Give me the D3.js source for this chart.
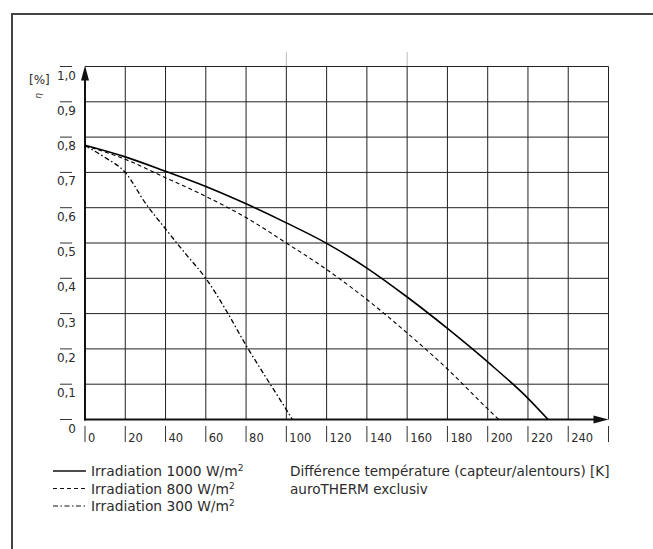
<!DOCTYPE html>
<html>
<head>
<meta charset="utf-8">
<script src="https://cdn.jsdelivr.net/npm/d3@7"></script>
<style>
  body { margin: 0; background: #fff; }
  text { font-family: "DejaVu Sans", sans-serif; fill: #2b2b2b; }
</style>
</head>
<body>
<div id="d3-container"></div>
<script>
// values
const xTickValues = [0, 20, 40, 60, 80, 100, 120, 140, 160, 180, 200, 220, 240, 260];
const xTickLabels = ['0', '20', '40', '60', '80', '100', '120', '140', '160', '180', '200', '220', '240', ''];
const yTickValues = [0, 0.1, 0.2, 0.3, 0.4, 0.5, 0.6, 0.7, 0.8, 0.9, 1.0];
const yTickLabels = ['0', '0,1', '0,2', '0,3', '0,4', '0,5', '0,6', '0,7', '0,8', '0,9', '1,0'];

const dT1000 = [0, 20, 40, 60, 80, 100, 120, 140, 160, 180, 200, 220, 230];
const eta1000 = [0.777, 0.744, 0.703, 0.660, 0.611, 0.557, 0.499, 0.429, 0.347, 0.258, 0.163, 0.06, 0];

const dT800 = [0, 20, 40, 60, 80, 100, 120, 140, 160, 180, 200, 205.5];
const eta800 = [0.776, 0.737, 0.685, 0.632, 0.572, 0.5, 0.425, 0.34, 0.245, 0.143, 0.03, 0];

const dT300 = [0, 10, 20, 30, 40, 50, 60, 70, 80, 90, 100, 103];
const eta300 = [0.776, 0.742, 0.70, 0.613, 0.54, 0.469, 0.4, 0.31, 0.21, 0.118, 0.028, 0];

const legendLabels = ['Irradiation 1000 W/m', 'Irradiation 800 W/m', 'Irradiation 300 W/m'];
const legendDash = [null, '4,3', '5,2.5,1.5,2.5'];
const xTitle = 'Différence température (capteur/alentours) [K]';
const subTitle = 'auroTHERM exclusiv';

const width = 653;
const height = 549;

const svg = d3.select('#d3-container')
    .append('svg')
    .attr('width', width)
    .attr('height', height)
    .attr('viewBox', [0, 0, width, height]);

const x = d3.scaleLinear()
    .domain([0, 260])
    .range([85, 608.5]);

const y = d3.scaleLinear()
    .domain([0, 1])
    .range([419.5, 66.5]);

// outer frame (top and left edges only)
svg.append('path')
    .attr('d', `M12,${height} V14 H${width}`)
    .attr('fill', 'none')
    .attr('stroke', '#444')
    .attr('stroke-width', 2);

// faint marks above the grid
svg.append('g')
    .attr('stroke', '#bbb')
    .selectAll('line')
    .data([100, 160])
    .join('line')
    .attr('x1', d => x(d)).attr('x2', d => x(d))
    .attr('y1', 52).attr('y2', y(1));

// grid
const grid = svg.append('g').attr('stroke', '#222').attr('stroke-width', 1);
grid.selectAll('.v')
    .data(xTickValues.slice(1))
    .join('line')
    .attr('class', 'v')
    .attr('x1', d => x(d)).attr('x2', d => x(d))
    .attr('y1', y(0)).attr('y2', y(1));
grid.selectAll('.h')
    .data(yTickValues.slice(1))
    .join('line')
    .attr('class', 'h')
    .attr('x1', x(0)).attr('x2', x(260))
    .attr('y1', d => y(d)).attr('y2', d => y(d));

// axes with arrows
svg.append('line')
    .attr('x1', x(0)).attr('x2', x(0))
    .attr('y1', y(0) + 1).attr('y2', y(1) + 10)
    .attr('stroke', '#111').attr('stroke-width', 2);
svg.append('path')
    .attr('d', `M${x(0)},${y(1) - 1} L${x(0) - 4},${y(1) + 14} L${x(0) + 4},${y(1) + 14} Z`)
    .attr('fill', '#111');
svg.append('line')
    .attr('x1', x(0) - 1).attr('x2', x(260) - 10)
    .attr('y1', y(0)).attr('y2', y(0))
    .attr('stroke', '#111').attr('stroke-width', 2);
svg.append('path')
    .attr('d', `M${x(260)},${y(0)} L${x(260) - 15},${y(0) - 4} L${x(260) - 15},${y(0) + 4} Z`)
    .attr('fill', '#111');

// y tick labels with their little overlines
const yLab = svg.append('g');
yLab.selectAll('line')
    .data(yTickValues)
    .join('line')
    .attr('x1', 60).attr('x2', 72)
    .attr('y1', d => y(d)).attr('y2', d => y(d))
    .attr('stroke', '#333').attr('stroke-width', 1);
yLab.selectAll('text')
    .data(yTickValues)
    .join('text')
    .attr('x', 76)
    .attr('y', d => y(d) + 13)
    .attr('text-anchor', 'end')
    .attr('font-size', 12)
    .text((d, i) => yTickLabels[i]);

svg.append('text')
    .attr('x', 29).attr('y', 84)
    .attr('font-size', 12)
    .text('[%]');
svg.append('text')
    .attr('transform', 'translate(41,96) rotate(-90)')
    .attr('text-anchor', 'middle')
    .attr('font-size', 9)
    .attr('font-style', 'italic')
    .text('η');

// x tick labels, each led by a small bar
const xLab = svg.append('g');
xLab.selectAll('line')
    .data(xTickValues)
    .join('line')
    .attr('x1', d => x(d)).attr('x2', d => x(d))
    .attr('y1', 426).attr('y2', 442)
    .attr('stroke', '#333').attr('stroke-width', 1);
xLab.selectAll('text')
    .data(xTickValues)
    .join('text')
    .attr('x', d => x(d) + 3)
    .attr('y', 442)
    .attr('font-size', 11.5)
    .text((d, i) => xTickLabels[i]);

// curves
const line = d3.line()
    .x(d => x(d[0]))
    .y(d => y(d[1]))
    .curve(d3.curveMonotoneX);

const series = [
    { dT: dT1000, eta: eta1000, dash: null, w: 1.6 },
    { dT: dT800, eta: eta800, dash: '4,3', w: 1.1 },
    { dT: dT300, eta: eta300, dash: '5,2.5,1.5,2.5', w: 1.3 },
];

svg.append('g')
    .selectAll('path')
    .data(series)
    .join('path')
    .attr('fill', 'none')
    .attr('stroke', '#000')
    .attr('stroke-width', d => d.w)
    .attr('stroke-dasharray', d => d.dash)
    .attr('d', d => line(d.dT.map((t, i) => [t, d.eta[i]])));

// legend
const legend = svg.append('g');
legend.selectAll('line')
    .data(legendLabels)
    .join('line')
    .attr('x1', 53).attr('x2', 86)
    .attr('y1', (d, i) => 471 + i * 17.5).attr('y2', (d, i) => 471 + i * 17.5)
    .attr('stroke', '#111')
    .attr('stroke-width', (d, i) => i === 0 ? 1.5 : 1.2)
    .attr('stroke-dasharray', (d, i) => legendDash[i]);
const lt = legend.selectAll('text')
    .data(legendLabels)
    .join('text')
    .attr('x', 91)
    .attr('y', (d, i) => 476 + i * 17.5)
    .attr('font-size', 13.8);
lt.append('tspan').text(d => d);
lt.append('tspan').attr('font-size', 9).attr('baseline-shift', '5').text('2');

svg.append('text')
    .attr('x', 290).attr('y', 476)
    .attr('font-size', 13.6)
    .text(xTitle);
svg.append('text')
    .attr('x', 290).attr('y', 494)
    .attr('font-size', 13.6)
    .text(subTitle);

svg.node();
</script>
</body>
</html>
